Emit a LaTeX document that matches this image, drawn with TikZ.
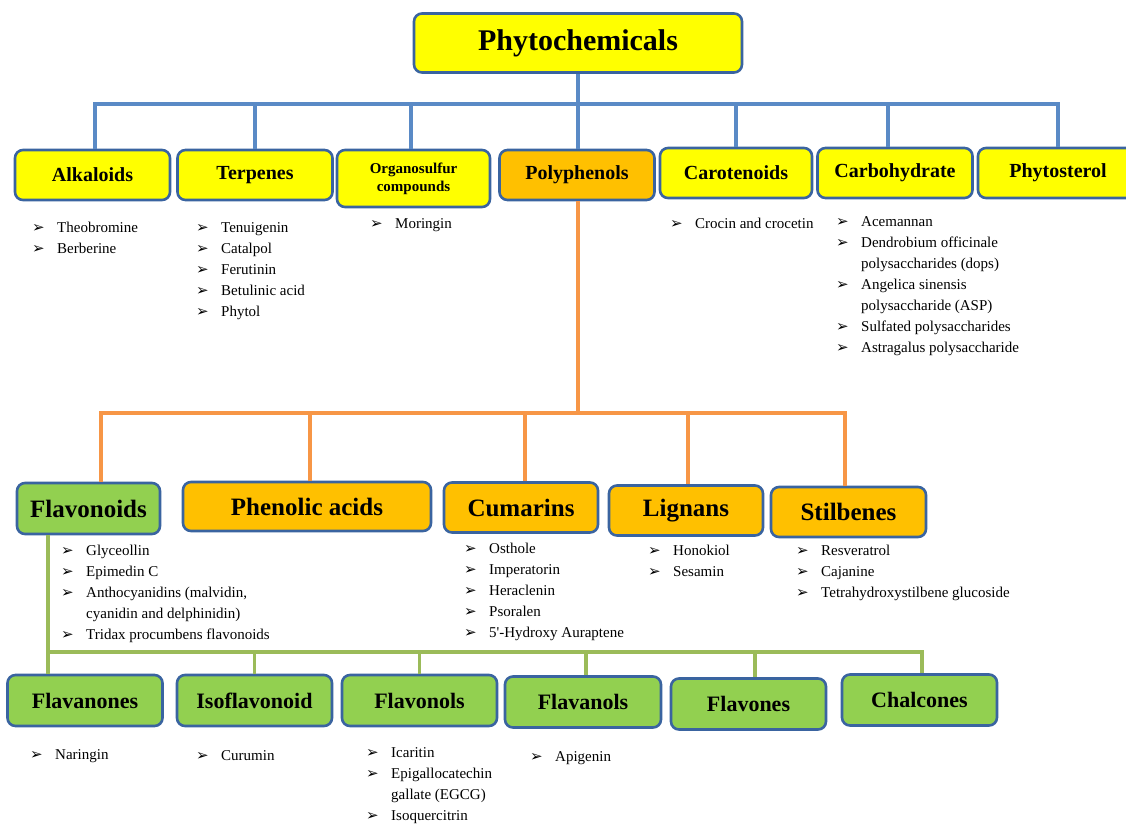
\documentclass[tikz,border=0pt]{standalone}
\usepackage{fontspec}
\setmainfont{Liberation Serif}
\newfontfamily\symfont{DejaVu Sans}
\definecolor{yfill}{HTML}{FFFF00}
\definecolor{ofill}{HTML}{FFC000}
\definecolor{gfill}{HTML}{92D050}
\definecolor{bordc}{HTML}{3A64A0}
\definecolor{blinec}{HTML}{5A8AC6}
\definecolor{olinec}{HTML}{F79646}
\definecolor{glinec}{HTML}{9BBB59}
\newcommand\bul{\makebox[25pt][l]{\symfont\fontsize{15}{15}\selectfont ➢}}
\newcommand\ind{\hspace*{25pt}}
\newcommand\sq{{\addfontfeatures{Ligatures=TeXOff}'}}
\newcommand\itemlist[1]{\begin{tabular}[t]{@{}l@{}}#1\end{tabular}}
\tikzset{
  bx/.style={draw=bordc, line width=2.6pt, rounded corners=8pt, inner sep=0pt, align=center},
  rowone/.style={bx, fill=yfill, minimum width=155pt, minimum height=50pt, font=\bfseries\fontsize{20}{22}\selectfont},
  rowtwo/.style={bx, fill=ofill, minimum width=154pt, minimum height=50pt, font=\bfseries\fontsize{25}{27}\selectfont},
  rowthree/.style={bx, fill=gfill, minimum width=155pt, minimum height=51pt, font=\bfseries\fontsize{22}{24}\selectfont},
  bline/.style={draw=blinec, line width=3.6pt},
  oline/.style={draw=olinec, line width=3.6pt},
  gline/.style={draw=glinec, line width=3.6pt},
  lst/.style={anchor=base west, inner sep=0pt, font=\fontsize{15}{21}\selectfont}
}
\begin{document}
\begin{tikzpicture}[x=1pt,y=-1pt]
\useasboundingbox (0,0) rectangle (1126,823);
% top
\node[bx, fill=yfill, minimum width=328pt, minimum height=59pt, font=\bfseries\fontsize{30}{32}\selectfont] (top) at (578,43) {Phytochemicals};
% row one
\node[rowone] (alk) at (92.5,175) {Alkaloids};
\node[rowone] (ter) at (255,175) {Terpenes};
\node[rowone, minimum width=153pt, minimum height=57pt, font=\bfseries\fontsize{15}{18}\selectfont] (org) at (413.5,178.5) {Organosulfur\\compounds};
\node[rowone, fill=ofill] (poly) at (577,175) {Polyphenols};
\node[rowone, minimum width=152pt] (car) at (736,173) {Carotenoids};
\node[rowone] (carb) at (895,173) {Carbohydrate};
\node[rowone, minimum width=160pt] (phy) at (1058,173) {Phytosterol};
% row one lists
\node[lst] (lalk) at (32,232) {\itemlist{\bul Theobromine\\ \bul Berberine}};
\node[lst] (lter) at (196,232) {\itemlist{\bul Tenuigenin\\ \bul Catalpol\\ \bul Ferutinin\\ \bul Betulinic acid\\ \bul Phytol}};
\node[lst] (lorg) at (370,228) {\itemlist{\bul Moringin}};
\node[lst] (lcar) at (670,228) {\itemlist{\bul Crocin and crocetin}};
\node[lst] (lcarb) at (836,226) {\itemlist{\bul Acemannan\\ \bul Dendrobium officinale\\ \ind polysaccharides (dops)\\ \bul Angelica sinensis\\ \ind polysaccharide (ASP)\\ \bul Sulfated polysaccharides\\ \bul Astragalus polysaccharide}};
% blue connectors
\coordinate (bbus) at (578,104);
\draw[bline] (top.south) -- (top.south |- poly.north);
\draw[bline] (bbus) -| ([xshift=2.5pt]alk.north);
\draw[bline] (bbus) -| (ter.north);
\draw[bline] (bbus) -| ([xshift=-2.5pt]org.north);
\draw[bline] (bbus) -| (car.north);
\draw[bline] (bbus) -| ([xshift=-7pt]carb.north);
\draw[bline] (bbus) -| (phy.north);
% row two
\node[rowtwo, fill=gfill, minimum width=143pt, minimum height=51pt] (flav) at (88.5,508.5) {Flavonoids};
\node[rowtwo, minimum width=248pt, minimum height=49pt] (phen) at (307,506.5) {Phenolic acids};
\node[rowtwo] (cum) at (521,507.5) {Cumarins};
\node[rowtwo] (lig) at (686,510.5) {Lignans};
\node[rowtwo, minimum width=155pt] (stil) at (848.5,512) {Stilbenes};
% orange connectors
\coordinate (obus) at (578,413);
\draw[oline] (top.south |- poly.south) -- (obus);
\draw[oline] (obus) -| ([xshift=12.5pt]flav.north);
\draw[oline] (obus) -| ([xshift=3pt]phen.north);
\draw[oline] (obus) -| ([xshift=4pt]cum.north);
\draw[oline] (obus) -| ([xshift=2pt]lig.north);
\draw[oline] (obus) -| ([xshift=-3.5pt]stil.north);
% row two lists
\node[lst] (lflav) at (61,555) {\itemlist{\bul Glyceollin\\ \bul Epimedin C\\ \bul Anthocyanidins (malvidin,\\ \ind cyanidin and delphinidin)\\ \bul Tridax procumbens flavonoids}};
\node[lst] (lcum) at (464,553) {\itemlist{\bul Osthole\\ \bul Imperatorin\\ \bul Heraclenin\\ \bul Psoralen\\ \bul 5\sq-Hydroxy Auraptene}};
\node[lst] (llig) at (648,555) {\itemlist{\bul Honokiol\\ \bul Sesamin}};
\node[lst] (lstil) at (796,555) {\itemlist{\bul Resveratrol\\ \bul Cajanine\\ \bul Tetrahydroxystilbene glucoside}};
% row three
\node[rowthree] (fnone) at (85,700.5) {Flavanones};
\node[rowthree] (iso) at (254.5,700.5) {Isoflavonoid};
\node[rowthree] (fnol) at (419.5,700.5) {Flavonols};
\node[rowthree, minimum width=156pt] (fanol) at (583,702) {Flavanols};
\node[rowthree] (fone) at (748.5,704) {Flavones};
\node[rowthree] (chal) at (919.5,700) {Chalcones};
% green connectors
\coordinate (gbus) at (48,652);
\draw[gline] ([xshift=-40.5pt]flav.south) -- (gbus) -- (gbus |- fnone.north);
\draw[gline] (gbus) -| (iso.north);
\draw[gline] (gbus) -| (fnol.north);
\draw[gline] (gbus) -| ([xshift=3pt]fanol.north);
\draw[gline] (gbus) -| ([xshift=6.5pt]fone.north);
\draw[gline] (gbus) -| ([xshift=2.5pt]chal.north);
% row three lists
\node[lst] (lfnone) at (30,759) {\itemlist{\bul Naringin}};
\node[lst] (liso) at (196,760) {\itemlist{\bul Curumin}};
\node[lst] (lfnol) at (366,757) {\itemlist{\bul Icaritin\\ \bul Epigallocatechin\\ \ind gallate (EGCG)\\ \bul Isoquercitrin}};
\node[lst] (lfanol) at (530,761) {\itemlist{\bul Apigenin}};
\end{tikzpicture}
\end{document}
